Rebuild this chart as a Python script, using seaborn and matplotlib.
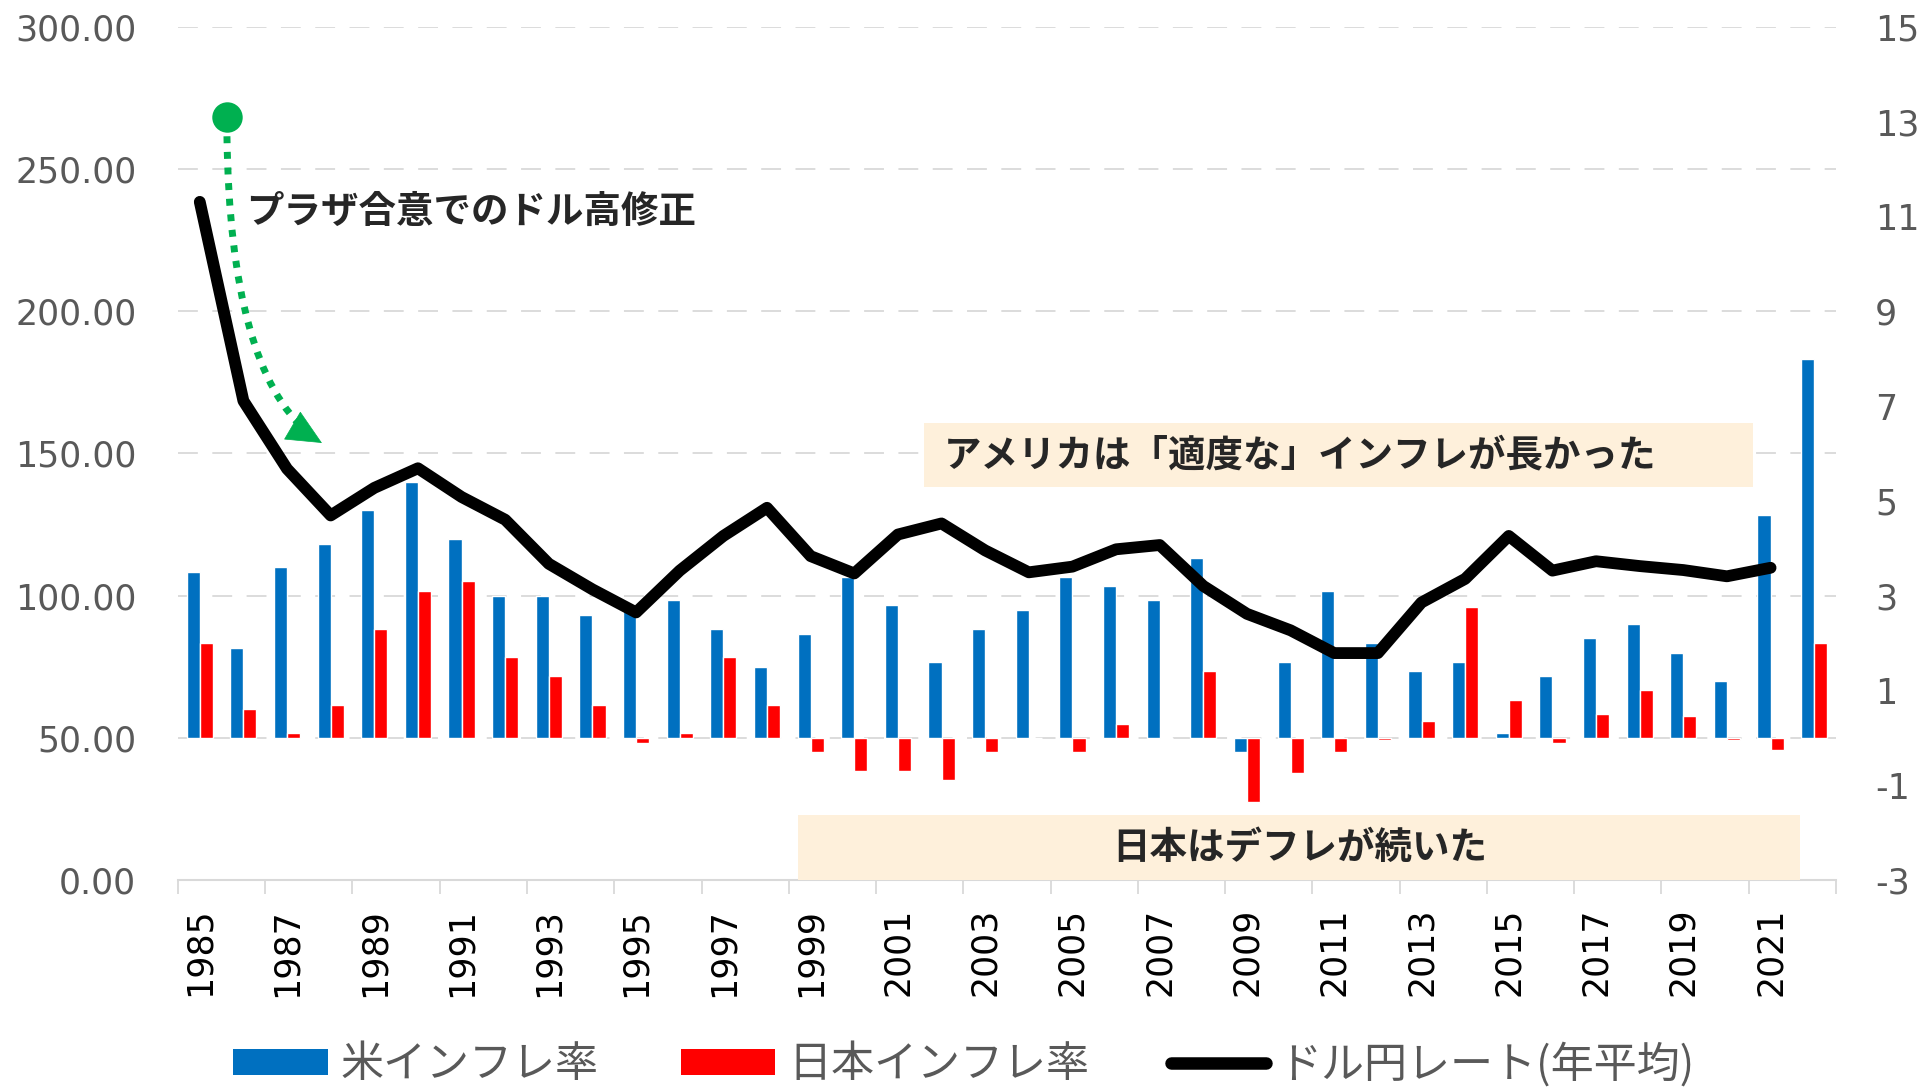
import numpy as np
import pandas as pd
import matplotlib
matplotlib.use('Agg')
import matplotlib.pyplot as plt
import seaborn as sns
from matplotlib.patches import Patch, Rectangle
from matplotlib.lines import Line2D


# ===================================
# Data
# ===================================
YEARS = list(range(1985, 2023))

US_CPI = [3.5, 1.9, 3.6, 4.1, 4.8, 5.4, 4.2, 3.0, 3.0, 2.6,
          2.8, 2.9, 2.3, 1.5, 2.2, 3.4, 2.8, 1.6, 2.3, 2.7,
          3.4, 3.2, 2.9, 3.8, -0.3, 1.6, 3.1, 2.0, 1.4, 1.6,
          0.1, 1.3, 2.1, 2.4, 1.8, 1.2, 4.7, 8.0]

JP_CPI = [2.0, 0.6, 0.1, 0.7, 2.3, 3.1, 3.3, 1.7, 1.3, 0.7,
          -0.1, 0.1, 1.7, 0.7, -0.3, -0.7, -0.7, -0.9, -0.3, 0.0,
          -0.3, 0.3, 0.0, 1.4, -1.35, -0.75, -0.3, -0.05, 0.35, 2.75,
          0.8, -0.1, 0.5, 1.0, 0.45, -0.05, -0.25, 2.0]

USDJPY = [238.5, 168.5, 144.6, 128.2, 137.9, 144.8, 134.7, 126.7, 111.2, 102.2,
          94.1, 108.8, 121.0, 130.9, 113.9, 107.8, 121.5, 125.4, 115.9, 108.2,
          110.2, 116.3, 117.8, 103.4, 93.6, 87.8, 79.8, 79.8, 97.6, 105.9,
          121.0, 108.8, 112.1, 110.4, 109.0, 106.8, 109.8]

SERIES = ['米インフレ率', '日本インフレ率']
LINE_LABEL = 'ドル円レート(年平均)'

BLUE  = '#0070C0'
RED   = '#FF0000'
GREEN = '#00B050'
GRAY  = '#595959'
GRID  = '#D9D9D9'
BOX   = '#FEF0DB'
JP_FONT = ['Noto Sans CJK JP', 'DejaVu Sans']

sns.set_theme(style='white')
plt.rcParams['font.family'] = ['DejaVu Sans', 'Noto Sans CJK JP']
plt.rcParams['axes.unicode_minus'] = False

bars = pd.DataFrame({
    'year':   [str(y) for y in YEARS] * 2,
    'rate':   US_CPI + JP_CPI,
    'series': [SERIES[0]] * len(YEARS) + [SERIES[1]] * len(YEARS),
})

fig = plt.figure(figsize=(19.28, 10.88), dpi=100)
ax = fig.add_axes([0.0923, 0.1912, 0.86, 0.784])

# ===================================
# Inflation bars (right scale)
# ===================================
sns.barplot(data=bars, x='year', y='rate', hue='series',
            palette=[BLUE, RED], width=0.6, saturation=1,
            errorbar=None, legend=False, ax=ax, zorder=2)
ax.set_xlim(-0.5, len(YEARS) - 0.5)
ax.set_ylim(-3, 15)
ax.set_yticks(range(-3, 16, 2))
ax.set_yticks(np.arange(-3, 16, 3), minor=True)
ax.yaxis.remove_overlapping_locs = False
ax.grid(False)
ax.grid(which='minor', axis='y', color=GRID, lw=1.3, dashes=(11, 8))
ax.set_axisbelow(True)

ax.set_xticks(range(0, len(YEARS), 2))
ax.set_xticklabels([str(y) for y in YEARS[::2]], rotation=90)
ax.set_xticks(np.arange(-0.5, len(YEARS), 2), minor=True)
ax.tick_params(axis='x', which='major', length=0, pad=20,
               labelsize=25, labelcolor='black')
ax.tick_params(axis='x', which='minor', length=10, width=1.3,
               color=GRID, bottom=True)
ax.set_xlabel('')
ax.set_ylabel('')
for side in ['left', 'right', 'top']:
    ax.spines[side].set_visible(False)
ax.spines['bottom'].set_color(GRID)
ax.spines['bottom'].set_linewidth(1.5)

# ===================================
# Dollar-yen line (left scale)
# ===================================
ax2 = ax.twinx()
sns.lineplot(x=np.arange(len(USDJPY)), y=USDJPY, ax=ax2,
             color='black', lw=8.5, zorder=4)
ax2.set_ylim(0, 300)
ax2.set_yticks(range(0, 301, 50))
ax2.yaxis.tick_left()
ax2.yaxis.set_major_formatter(matplotlib.ticker.FormatStrFormatter('%.2f'))
ax2.tick_params(axis='y', length=0, pad=30, labelsize=25, labelcolor=GRAY)
ax2.set_ylabel('')
ax2.grid(False)
for side in ['left', 'right', 'top', 'bottom']:
    ax2.spines[side].set_visible(False)

# twinx put the bar axis ticks on the left, move them back
ax.yaxis.tick_right()
ax.tick_params(axis='y', which='major', length=0, pad=28,
               labelsize=25, labelcolor=GRAY)
ax.tick_params(axis='y', which='minor', length=0)

# ===================================
# Annotations
# ===================================
ARROW_START = (0.62, 268.4)
ARROW_END   = (2.8, 153.7)
ax2.annotate('', xy=ARROW_END, xytext=ARROW_START,
             arrowprops=dict(arrowstyle='-', color=GREEN, lw=5,
                             linestyle=(0, (1, 1.25)), capstyle='butt',
                             connectionstyle='angle3,angleA=90,angleB=-32',
                             shrinkA=14, shrinkB=12),
             zorder=5)
ax2.annotate('', xy=ARROW_END, xytext=(ARROW_END[0] - 0.5, ARROW_END[1] + 4.5),
             arrowprops=dict(arrowstyle='-|>,head_length=0.75,head_width=0.35',
                             color=GREEN, lw=0.5, mutation_scale=32,
                             shrinkA=0, shrinkB=0),
             zorder=5)
ax2.scatter([ARROW_START[0]], [ARROW_START[1]], s=480, color=GREEN,
            zorder=6, linewidths=0)
ax2.text(1.06, 235.2, 'プラザ合意でのドル高修正', family=JP_FONT,
         fontsize=27, fontweight='bold', va='center', ha='left', zorder=6)

ax2.add_patch(Rectangle((16.59, 138.2), 35.6 - 16.59, 160.7 - 138.2,
                        facecolor=BOX, edgecolor='none', zorder=1))
ax2.text(17.05, 149.5, 'アメリカは「適度な」インフレが長かった', family=JP_FONT,
         fontsize=27, fontweight='bold', va='center', ha='left', zorder=6)

ax2.add_patch(Rectangle((13.72, 0), 36.68 - 13.72, 22.9,
                        facecolor=BOX, edgecolor='none', zorder=1))
ax2.text(25.2, 11.5, '日本はデフレが続いた', family=JP_FONT,
         fontsize=27, fontweight='bold', va='center', ha='center', zorder=6)

# ===================================
# Legend
# ===================================
handles = [Patch(facecolor=BLUE, edgecolor='none'),
           Patch(facecolor=RED, edgecolor='none'),
           Line2D([0], [0], color='black', lw=9, solid_capstyle='round')]
fig.legend(handles, SERIES + [LINE_LABEL], loc='center',
           bbox_to_anchor=(0.5, 1 - 1065 / 1088), ncol=3, frameon=False,
           prop=dict(family=JP_FONT, size=31), labelcolor=GRAY,
           handlelength=2.2, handleheight=0.55, handletextpad=0.3,
           columnspacing=1.9)

fig.savefig('out.png', dpi=100)
